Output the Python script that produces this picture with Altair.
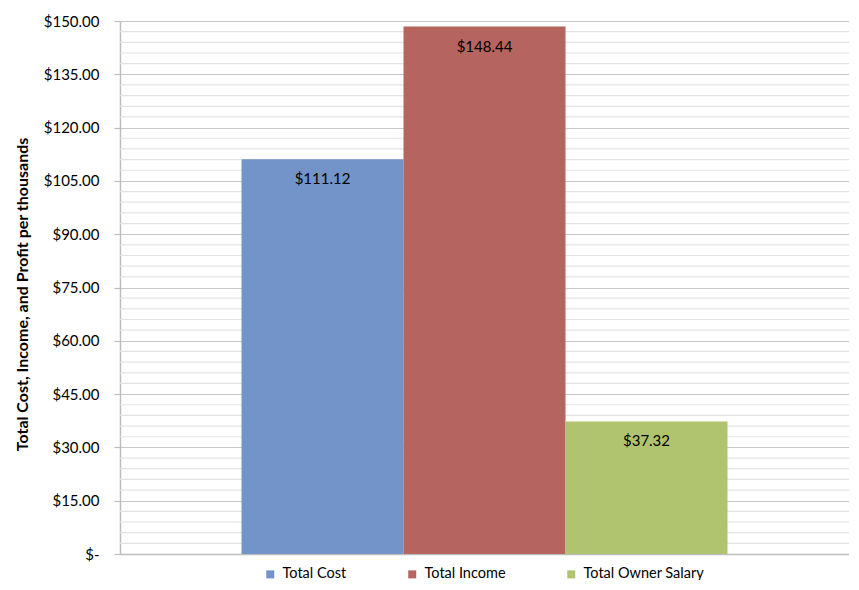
import altair as alt
import pandas as pd

series = ["Total Cost", "Total Income", "Total Owner Salary"]
values = [111.12, 148.44, 37.32]
colors = ["#7294C8", "#B5645F", "#B0C46F"]
major_ticks = [0, 15, 30, 45, 60, 75, 90, 105, 120, 135, 150]
minor_ticks = [v for v in range(3, 150, 3) if v % 15 != 0]

df = pd.DataFrame({"series": series, "value": values})
df["label"] = ["$" + format(v, ".2f") for v in values]
minor_df = pd.DataFrame({"y": minor_ticks})

FONT = "Lato"

x_enc = alt.X(
    "series:N",
    sort=series,
    scale=alt.Scale(paddingInner=0, paddingOuter=0.75),
    axis=alt.Axis(labels=False, ticks=False, title=None, grid=False,
                  domainColor="#bdbdbd", domainWidth=1.5),
)

y_scale = alt.Scale(domain=[0, 150], nice=False)

minor = alt.Chart(minor_df).mark_rule(color="#e3e3e3", strokeWidth=1.2).encode(
    y=alt.Y("y:Q", scale=y_scale)
)

bars = alt.Chart(df).mark_bar().encode(
    x=x_enc,
    y=alt.Y(
        "value:Q",
        scale=y_scale,
        axis=alt.Axis(
            values=major_ticks,
            labelExpr="datum.value == 0 ? '$-\u00a0\u00a0' : '$' + format(datum.value, '.2f')",
            title="Total Cost, Income, and Profit per thousands",
            titleFont=FONT, titleFontSize=16, titleFontWeight="bold", titleColor="#000",
            titleX=-98, titleY=273, titleAlign="center", titleBaseline="middle", titleAngle=270,
            labelFont=FONT, labelFontSize=15, labelColor="#000", labelPadding=15,
            tickSize=6, tickColor="#bdbdbd", tickWidth=1.2,
            domainColor="#bdbdbd", domainWidth=1.5,
            grid=True, gridColor="#c8c8c8", gridWidth=1.2,
        ),
    ),
    color=alt.Color(
        "series:N",
        sort=series,
        scale=alt.Scale(domain=series, range=colors),
        legend=alt.Legend(
            title=None, orient="none", direction="horizontal",
            legendX=143, legendY=546,
            symbolType="square", symbolSize=64, symbolStrokeWidth=0,
            labelFont=FONT, labelFontSize=14.5, labelColor="#000",
            labelOffset=5, columnPadding=58,
        ),
    ),
)

labels = alt.Chart(df).mark_text(
    font=FONT, fontSize=15, color="#000", baseline="middle", align="center", dy=20
).encode(
    x=alt.X("series:N", sort=series),
    y=alt.Y("value:Q", scale=y_scale),
    text="label:N",
)

chart = alt.layer(minor, bars, labels).properties(
    width=729,
    height=533,
    padding={"left": 112, "top": 13, "right": 0, "bottom": 26},
    autosize=alt.AutoSizeParams(type="none"),
).configure_view(stroke=None).configure(background="white")

chart.save("out.html", embed_options={"renderer": "svg", "actions": False})
